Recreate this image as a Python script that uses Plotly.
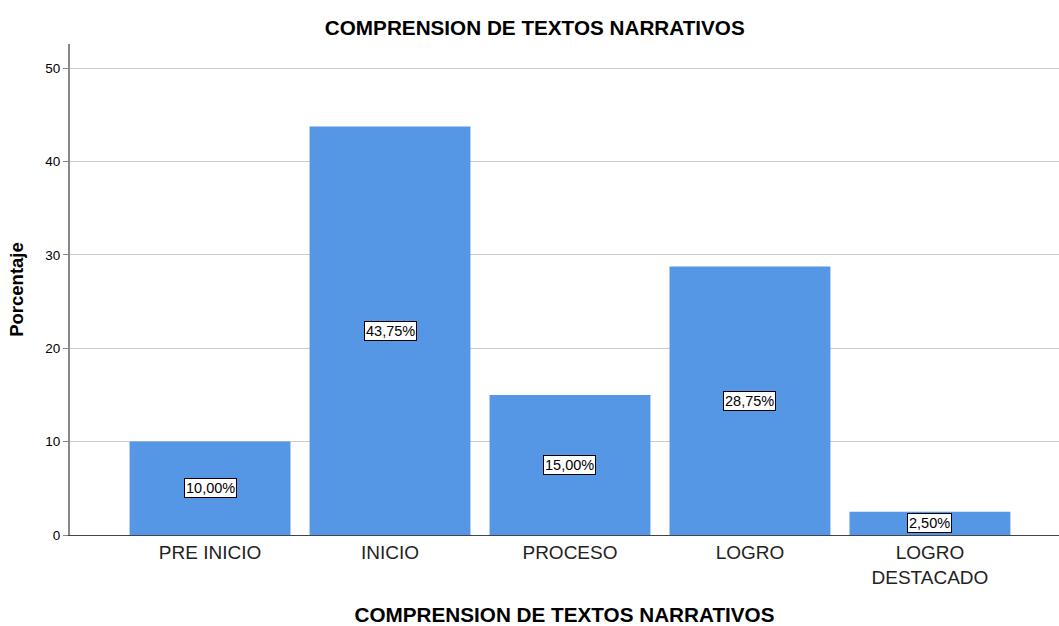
import plotly.graph_objects as go

categories = ["PRE INICIO", "INICIO", "PROCESO", "LOGRO", "LOGRO<br>DESTACADO"]
percentages = [10.00, 43.75, 15.00, 28.75, 2.50]
labels = ["10,00%", "43,75%", "15,00%", "28,75%", "2,50%"]
y_ticks = [0, 10, 20, 30, 40, 50]

FONT = "Liberation Sans, Arial, sans-serif"

fig = go.Figure()
fig.add_trace(go.Bar(
    x=categories, y=percentages,
    marker=dict(color="#5596E5", line=dict(width=0)),
    width=0.894,
    hoverinfo="x+y",
))

for c, v, t in zip(categories, percentages, labels):
    fig.add_annotation(
        x=c, y=v / 2, text=t, showarrow=False,
        font=dict(family=FONT, size=14.5, color="#000000"),
        bgcolor="#FFFFFF", bordercolor="#000000", borderwidth=1, borderpad=1,
    )

fig.update_layout(
    width=1059, height=626,
    margin=dict(l=70, r=0, t=44, b=91, autoexpand=False),
    paper_bgcolor="#FFFFFF", plot_bgcolor="#FFFFFF",
    showlegend=False,
    title=dict(text="<b>COMPRENSION DE TEXTOS NARRATIVOS</b>",
               x=0.505, xanchor="center", y=0.955, yanchor="middle",
               font=dict(family=FONT, size=20.7, color="#000000")),
    font=dict(family=FONT, color="#000000"),
)

fig.update_xaxes(
    range=[-0.778, 4.717],
    automargin=False,
    showline=True, linecolor="#444444", linewidth=1,
    ticks="", showgrid=False,
    tickfont=dict(family=FONT, size=19, color="#222222"),
    title=dict(text="<b>COMPRENSION DE TEXTOS NARRATIVOS</b>",
               font=dict(family=FONT, size=20.7, color="#000000"), standoff=25),
)
fig.update_yaxes(
    range=[0, 52.57],
    automargin=False,
    tickvals=y_ticks,
    showline=True, linecolor="#888888", linewidth=2,
    ticks="outside", ticklen=5, tickcolor="#888888",
    showgrid=True, gridcolor="#CCCCCC", gridwidth=1,
    zeroline=False,
    tickfont=dict(family=FONT, size=13.5, color="#000000"),
    title=dict(text="<b>Porcentaje</b>",
               font=dict(family=FONT, size=18.5, color="#000000"), standoff=17),
)

fig.write_html(
    "out.html",
    config={"displayModeBar": False},
    post_script="document.body.style.margin='0';document.body.style.overflow='hidden';",
)
